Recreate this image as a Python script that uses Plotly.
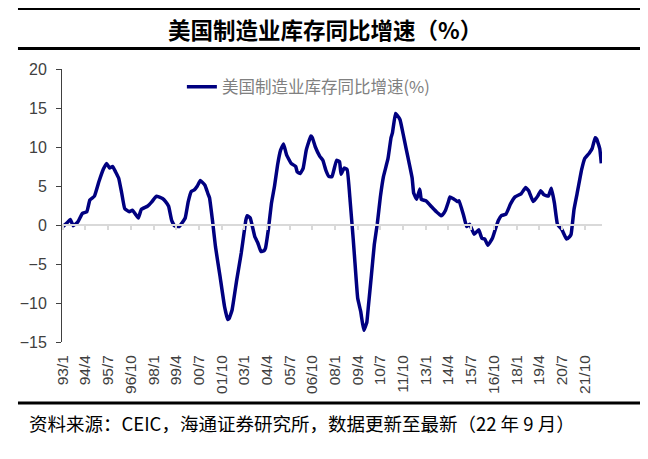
import pandas as pd
import plotly.graph_objects as go

### data (month, yoy %)

months = ['1993-01', '1993-04', '1993-06', '1993-08', '1993-11', '1994-02', '1994-05', '1994-07',
          '1994-10', '1995-01', '1995-04', '1995-06', '1995-08', '1995-10', '1995-12', '1996-02',
          '1996-04', '1996-06', '1996-09', '1996-11', '1997-01', '1997-03', '1997-05', '1997-09',
          '1997-12', '1998-03', '1998-07', '1998-09', '1998-11', '1999-01', '1999-03', '1999-06',
          '1999-08', '1999-10', '1999-12', '2000-02', '2000-04', '2000-06', '2000-08', '2000-11',
          '2001-01', '2001-02', '2001-04', '2001-06', '2001-09', '2001-12', '2002-02', '2002-03',
          '2002-05', '2002-08', '2002-11', '2003-01', '2003-02', '2003-03', '2003-05', '2003-08',
          '2003-10', '2003-12', '2004-02', '2004-03', '2004-05', '2004-07', '2004-09', '2004-11',
          '2005-01', '2005-03', '2005-05', '2005-08', '2005-11', '2005-12', '2006-02', '2006-04',
          '2006-06', '2006-09', '2006-10', '2006-12', '2007-03', '2007-05', '2007-07', '2007-09',
          '2007-11', '2008-02', '2008-04', '2008-05', '2008-07', '2008-09', '2008-11', '2009-01',
          '2009-02', '2009-04', '2009-06', '2009-08', '2009-10', '2009-11', '2010-01', '2010-03',
          '2010-05', '2010-07', '2010-09', '2010-12', '2011-02', '2011-03', '2011-05', '2011-06',
          '2011-08', '2011-10', '2011-12', '2012-02', '2012-04', '2012-05', '2012-07', '2012-09',
          '2012-10', '2013-01', '2013-05', '2013-08', '2013-11', '2013-12', '2014-02', '2014-04',
          '2014-05', '2014-07', '2014-10', '2014-11', '2015-02', '2015-04', '2015-06', '2015-09',
          '2015-12', '2016-02', '2016-04', '2016-06', '2016-09', '2016-11', '2017-01', '2017-03',
          '2017-06', '2017-09', '2017-12', '2018-04', '2018-07', '2018-09', '2018-12', '2019-03',
          '2019-05', '2019-07', '2019-10', '2019-12', '2020-02', '2020-04', '2020-07', '2020-10',
          '2020-12', '2021-01', '2021-03', '2021-05', '2021-08', '2021-10', '2022-01', '2022-03',
          '2022-05', '2022-06', '2022-08', '2022-09']

inventory_yoy = [-0.2, 0.3, 0.7, -0.1, 0.4, 1.5, 1.7, 3.2,
                 3.7, 5.6, 7.2, 7.9, 7.3, 7.5, 6.8, 6.0,
                 4.1, 2.1, 1.7, 1.9, 1.4, 0.9, 2.0, 2.4,
                 3.0, 3.7, 3.4, 3.0, 2.4, 0.6, -0.1, -0.2,
                 0.3, 0.9, 3.0, 4.3, 4.5, 5.0, 5.7, 5.1,
                 4.0, 3.5, 0.6, -2.8, -6.6, -10.5, -12.1, -12.0,
                 -10.9, -7.1, -3.6, -0.8, 0.6, 1.2, 0.9, -1.5,
                 -2.3, -3.4, -3.3, -3.0, -0.5, 2.8, 5.0, 7.7,
                 9.6, 10.4, 9.0, 7.9, 7.5, 6.8, 6.6, 7.3,
                 9.6, 11.4, 11.2, 10.0, 8.8, 8.3, 7.0, 6.2,
                 6.2, 8.3, 8.1, 6.5, 7.3, 7.1, 3.0, -1.8,
                 -4.5, -9.4, -11.1, -13.5, -12.5, -10.5, -6.5, -2.5,
                 0.2, 3.6, 6.2, 8.5, 11.2, 11.8, 14.3, 14.1,
                 13.5, 11.7, 9.8, 7.9, 6.0, 4.1, 3.3, 4.6,
                 3.3, 3.1, 2.3, 1.7, 1.2, 1.3, 1.9, 3.0,
                 3.6, 3.4, 3.0, 3.1, 1.2, -0.2, 0.1, -1.2,
                 -0.6, -1.7, -1.8, -2.6, -1.7, -0.5, 0.6, 1.2,
                 1.4, 2.7, 3.6, 4.0, 4.8, 4.4, 3.0, 3.7,
                 4.4, 3.9, 3.7, 4.7, 2.8, 0.1, -0.6, -1.8,
                 -1.5, -1.2, 2.0, 4.0, 7.1, 8.5, 9.2, 9.8,
                 11.2, 11.0, 9.8, 7.9]

tick_labels = ['93/1', '94/4', '95/7', '96/10', '98/1', '99/4', '00/7', '01/10', '03/1', '04/4',
               '05/7', '06/10', '08/1', '09/4', '10/7', '11/10', '13/1', '14/4', '15/7', '16/10',
               '18/1', '19/4', '20/7', '21/10']

series_name = '美国制造业库存同比增速(%)'
title_text = '美国制造业库存同比增速（%）'
source_text = '资料来源：CEIC，海通证券研究所，数据更新至最新（22 年 9 月）'


def label_to_date(s):
    yy, mm = s.split('/')
    yy = int(yy)
    year = 2000 + yy if yy < 50 else 1900 + yy
    return pd.Timestamp(year=year, month=int(mm), day=1)


tick_dates = [label_to_date(s) for s in tick_labels]
dates = pd.to_datetime(months)

x_range = ['1992-12-17', '2022-09-15']
y_lo, y_hi = -15, 20

### figure

fig = go.Figure()
fig.add_trace(go.Scatter(
    x=dates,
    y=inventory_yoy,
    mode='lines',
    line=dict(color='#000080', width=3.5, shape='spline', smoothing=0.3),
    name=series_name
))
# empty trace so the zero-line axis gets drawn
fig.add_trace(go.Scatter(x=[], y=[], xaxis='x2', showlegend=False, hoverinfo='skip'))

arial = 'Liberation Sans, Arial, sans-serif'
cjk = 'Noto Sans CJK SC'

# page body has an 8px margin, so shift margins to land the plot at 50..602 x 69..342
pad = 8
fig.update_layout(
    width=648, height=459,
    margin=dict(l=50 - pad, r=648 - 602 + pad, t=69 - pad, b=459 - 342 + pad),
    paper_bgcolor='white', plot_bgcolor='white',
    showlegend=True,
    legend=dict(x=0.222, y=0.934, xanchor='left', yanchor='middle',
                bgcolor='rgba(0,0,0,0)',
                font=dict(family=cjk, size=16.5, color='#808080')),
    xaxis=dict(type='date', range=x_range, tickvals=tick_dates, ticktext=tick_labels,
               tickangle=-90, showgrid=False, showline=False, ticks='', zeroline=False,
               ticklabelstandoff=9,
               tickfont=dict(family=arial, size=15.5, color='#404040')),
    xaxis2=dict(type='date', range=x_range, overlaying='x', anchor='free',
                position=(0 - y_lo) / (y_hi - y_lo), tickvals=tick_dates,
                showticklabels=False, showgrid=False, zeroline=False,
                showline=True, linecolor='#d9d9d9', linewidth=2,
                ticks='outside', ticklen=4, tickwidth=1.5, tickcolor='#d9d9d9'),
    yaxis=dict(range=[y_lo, y_hi], dtick=5, showgrid=False, zeroline=False,
               showline=True, linecolor='#404040', linewidth=1,
               ticks='outside', ticklen=5, tickcolor='#404040',
               ticklabelstandoff=6,
               tickfont=dict(family=arial, size=16, color='#404040')),
)


# header / footer rules and texts (paper coords, plot area = 50..602 x 69..342 px in window)
def px_x(p):
    return (p - 50) / 552


def px_y(p):
    return (342 - p) / 273


for yy in [8.5, 48.5, 403]:
    fig.add_shape(type='line', xref='paper', yref='paper',
                  x0=px_x(5), x1=px_x(643), y0=px_y(yy), y1=px_y(yy),
                  line=dict(color='black', width=3))

fig.add_annotation(text='<b>' + title_text + '</b>', xref='paper', yref='paper',
                   x=px_x(319), y=px_y(29), showarrow=False, xanchor='center', yanchor='middle',
                   font=dict(family=cjk, size=22.5, color='black'))
fig.add_annotation(text=source_text, xref='paper', yref='paper',
                   x=px_x(295), y=px_y(423), showarrow=False, xanchor='center', yanchor='middle',
                   font=dict(family=cjk, size=18.5, color='black'))

fig.write_html('out.html')
